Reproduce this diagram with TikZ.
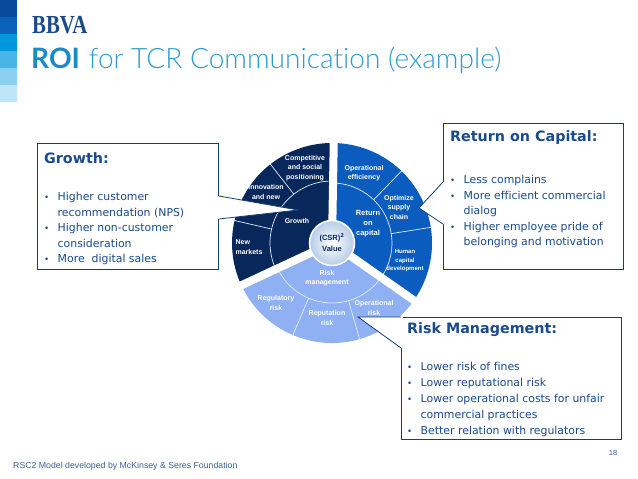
\documentclass[tikz,border=0pt]{standalone}
\usepackage{fontspec}
\setmainfont[Ligatures=NoCommon]{DejaVu Sans}
\newfontfamily\arialf{Liberation Sans}
\newfontfamily\logof{Liberation Serif}
\newfontfamily\titlef[Ligatures=NoCommon]{Lato Light}
\newfontfamily\titleb{Lato}
\usetikzlibrary{calc}
\definecolor{bvnavy}{HTML}{08285C}
\definecolor{bvblue}{HTML}{0A5CBE}
\definecolor{bvlight}{HTML}{8FB0F3}
\definecolor{bvtext}{HTML}{1A4A8A}
\definecolor{bvline}{HTML}{14406F}
\definecolor{bvtitle}{HTML}{2F9AD0}
\definecolor{bvroi}{HTML}{1B8AC6}
\definecolor{bvring}{HTML}{B7CCE6}
\definecolor{bvfoot}{HTML}{3B5F95}
\tikzset{
  csb/.style={draw=bvline, fill=white, line width=0.9pt, inner sep=0pt},
  chead/.style={anchor=west, inner sep=0pt, text=bvtext, font=\fontsize{14.3}{16}\selectfont\bfseries},
  clist/.style={anchor=north west, inner sep=0pt, align=left, text=bvtext, font=\fontsize{10.9}{15.4}\selectfont},
  ctail/.style={draw=bvline, line width=0.8pt},
  plab/.style={text=white, align=center, inner sep=0pt, font=\arialf\bfseries\fontsize{7}{9.5}\selectfont},
  pline/.style={draw=white!75!bvlight, line width=0.7pt},
  gapl/.style={draw=white, line width=8pt},
  strip/.style={minimum width=17pt, minimum height=17pt, inner sep=0pt, anchor=north west},
}
\newcommand{\blt}{\makebox[13.5pt][l]{\scalebox{0.8}{\textbullet}}}
\newcommand{\nbl}{\hspace*{13.5pt}}
\begin{document}
\begin{tikzpicture}[x=1pt, y=-1pt]
  \useasboundingbox (0,0) rectangle (638,479);
  \foreach \yy/\cc [count=\ii] in {0/0A4A9C,17/0A62B8,34/0098DC,51/4BB4E6,68/8AD0F0,85/BFE5F8} {
    \definecolor{stripc}{HTML}{\cc}
    \node[strip, fill=stripc] (strip\ii) at (0,\yy) {};
  }
  \node[anchor=west, inner sep=0pt, text=bvtext] (logo) at (32,25.5)
    {\scalebox{0.8}[1]{\logof\bfseries\fontsize{26}{26}\selectfont BBVA}};
  \node[anchor=west, inner sep=0pt, text=bvtitle] (title) at (31,60)
    {\fontsize{28.1}{30}\selectfont{\titleb\bfseries\color{bvroi}ROI} \titlef for TCR Communication (example)};

  \begin{scope}[shift={(332,243)}, y=1pt]
    \fill[bvnavy] (0,0) -- (90:100) arc (90:205:100) -- cycle;
    \fill[bvblue] (0,0) -- (-35:100) arc (-35:90:100) -- cycle;
    \fill[bvlight] (0,0) -- (205:100) arc (205:325:100) -- cycle;
    \draw[pline] (128:62) -- (128:101);
    \draw[pline] (167:62) -- (167:101);
    \draw[pline] (46:60) -- (46:101);
    \draw[pline] (9:60) -- (9:101);
    \draw[pline] (247:60) -- (247:101);
    \draw[pline] (286:60) -- (286:101);
    \draw[pline] (90:62) arc (90:205:62);
    \draw[pline] (-35:60) arc (-35:90:60);
    \draw[pline] (205:60) arc (205:325:60);
    \draw[gapl] (0,0) -- (89:104);
    \draw[gapl] (0,0) -- (205:104);
    \draw[gapl] (0,0) -- (-35:104);
    \draw[white, line width=1.5pt, inner color=white, outer color=bvring] (0,0) circle (22.5);
  \end{scope}

  \node[plab] (compet) at (305,168) {Competitive\\and social\\positioning};
  \node[plab] (innov) at (266,192) {Innovation\\and new};
  \node[plab] (growth) at (297,221) {Growth};
  \node[plab, align=left] (newm) at (249,247) {New\\markets};
  \node[plab] (opeff) at (364,173) {Operational\\efficiency};
  \node[plab, font=\arialf\bfseries\fontsize{7.5}{10}\selectfont] (roc) at (368,224) {Return\\on\\capital};
  \node[plab] (supply) at (399,207) {Optimize\\supply\\chain};
  \node[plab, font=\arialf\bfseries\fontsize{6}{8.5}\selectfont] (human) at (405,261) {Human\\capital\\development};
  \node[plab] (riskm) at (327,278) {Risk\\management};
  \node[plab] (regul) at (276,303) {Regulatory\\risk};
  \node[plab] (reput) at (327,318) {Reputation\\risk};
  \node[plab] (oprisk) at (374,308) {Operational\\risk};
  \node[plab, text=bvnavy, font=\arialf\bfseries\fontsize{7.5}{11}\selectfont] (csr) at (332,243) {(CSR)$^{\mathbf{2}}$\\Value};

  \node[csb, anchor=north west, minimum width=181pt, minimum height=126pt] (gbox) at (37,143) {};
  \node[csb, anchor=north west, minimum width=180pt, minimum height=146pt] (rbox) at (443,123) {};
  \node[csb, anchor=north west, minimum width=220pt, minimum height=122pt] (mbox) at (401,317) {};

  \coordinate (gtip) at (298,210);
  \coordinate (gup) at (gbox.east |- 0,196);
  \coordinate (gdn) at (gbox.east |- 0,219);
  \coordinate (rtip) at (419,208);
  \coordinate (rup) at (rbox.west |- 0,182);
  \coordinate (rdn) at (rbox.west |- 0,224);
  \coordinate (mtip) at (358,317);
  \coordinate (mup) at (mbox.north west);
  \coordinate (mdn) at (mbox.west |- 0,348);

  \fill[white] (gup) -- (gtip) -- (gdn) -- ($(gdn)+(-2,0)$) -- ($(gup)+(-2,0)$) -- cycle;
  \fill[white] (rup) -- (rtip) -- (rdn) -- ($(rdn)+(2,0)$) -- ($(rup)+(2,0)$) -- cycle;
  \fill[white] ($(mup)+(2,-1)$) -- (mup) -- (mtip) -- (mdn) -- ($(mdn)+(2,0)$) -- cycle;
  \draw[ctail] (gup) -- (gtip) -- (gdn);
  \draw[ctail] (rup) -- (rtip) -- (rdn);
  \draw[ctail] (mup) -- (mtip) -- (mdn);

  \node[chead] (ghead) at (44,158) {Growth:};
  \node[clist] (glist) at (44,192.5)
    {\blt Higher customer\\\nbl recommendation (NPS)\\\blt Higher non-customer\\\nbl consideration\\\blt More\ \ digital sales};
  \node[chead] (rhead) at (450,138) {Return on Capital:};
  \node[clist] (rlist) at (450,175.5)
    {\blt Less complains\\\blt More efficient commercial\\\nbl dialog\\\blt Higher employee pride of\\\nbl belonging and motivation};
  \node[chead] (mhead) at (407,330) {Risk Management:};
  \node[clist, font=\fontsize{10.9}{16}\selectfont] (mlist) at (407,362.5)
    {\blt Lower risk of fines\\\blt Lower reputational risk\\\blt Lower operational costs for unfair\\\nbl commercial practices\\\blt Better relation with regulators};

  \node[anchor=west, inner sep=0pt, text=bvfoot, font=\arialf\fontsize{8.75}{10}\selectfont] (foot) at (13,466)
    {RSC2 Model developed by McKinsey \& Seres Foundation};
  \node[inner sep=0pt, text=bvfoot, font=\arialf\fontsize{7.5}{9}\selectfont] (pageno) at (613,453) {18};
\end{tikzpicture}
\end{document}
